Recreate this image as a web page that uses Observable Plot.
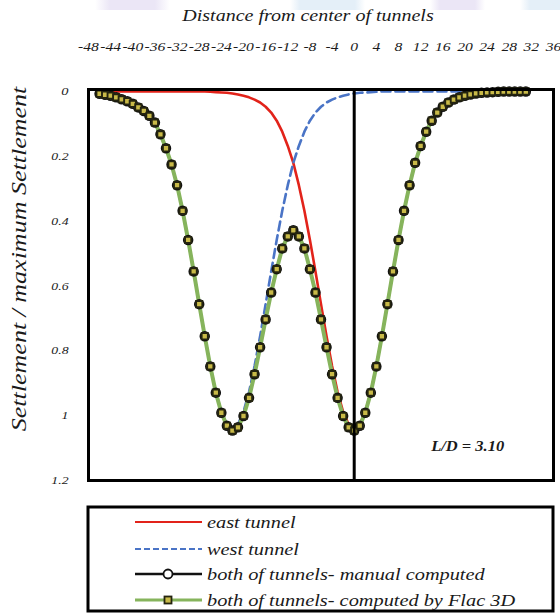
<!DOCTYPE html>
<html><head><meta charset="utf-8">
<script src="https://cdn.jsdelivr.net/npm/d3@7"></script>
<script src="https://cdn.jsdelivr.net/npm/@observablehq/plot@0.6"></script>
<style>
html,body{margin:0;padding:0;background:#fff;}
body{width:560px;height:614px;overflow:hidden;position:relative;font-family:"Liberation Serif",serif;}
#band{position:absolute;left:0;top:0;width:560px;height:10px;
 background:linear-gradient(90deg,#fff 0,#fff 95px,#ebe6f6 110px,#ebe6f6 155px,#fff 170px,#fff 290px,#e4eff8 300px,#e4eff8 355px,#fff 365px,#fff 430px,#ebe6f6 440px,#ebe6f6 475px,#fff 485px,#fff 520px,#e4eff8 530px,#e4eff8 560px);}
#chart{position:absolute;left:0;top:0;}
#legend{position:absolute;left:0;top:482px;}
</style></head><body>
<div id="band"></div>
<div id="chart"></div>
<svg id="legend" width="560" height="132"></svg>
<script>
// Distance from center of tunnels (x)
const xValues = [-46,-45,-44,-43,-42,-41,-40,-39,-38,-37,-36,-35,-34,-33,-32,-31,-30,-29,-28,-27,-26,-25,-24,-23,-22,-21,-20,-19,-18,-17,-16,-15,-14,-13,-12,-11,-10,-9,-8,-7,-6,-5,-4,-3,-2,-1,0,1,2,3,4,5,6,7,8,9,10,11,12,13,14,15,16,17,18,19,20,21,22,23,24,25,26,27,28,29,30,31];
// east tunnel
const eastTunnel = [0,0,0,0,0,0,0,0,0,0,0,0,0,0,0,0,0,0,0,0,0.001,0.002,0.003,0.004,0.006,0.009,0.013,0.018,0.025,0.034,0.047,0.065,0.090,0.124,0.168,0.220,0.289,0.368,0.458,0.555,0.656,0.755,0.847,0.927,0.988,1.027,1.040,1.027,0.988,0.927,0.847,0.755,0.656,0.555,0.458,0.368,0.289,0.220,0.168,0.124,0.090,0.065,0.047,0.034,0.025,0.018,0.013,0.009,0.006,0.004,0.003,0.002,0.001,0,0,0,0,0];
// west tunnel
const westTunnel = [0.007,0.010,0.013,0.018,0.024,0.030,0.038,0.049,0.060,0.075,0.096,0.132,0.175,0.225,0.289,0.368,0.458,0.555,0.656,0.755,0.847,0.927,0.988,1.027,1.040,1.027,0.988,0.927,0.847,0.755,0.656,0.555,0.458,0.368,0.289,0.220,0.168,0.124,0.090,0.065,0.047,0.034,0.025,0.018,0.013,0.009,0.006,0.004,0.003,0.002,0.001,0,0,0,0,0,0,0,0,0,0,0,0,0,0,0,0,0,0,0,0,0,0,0,0,0,0,0];
// both of tunnels - manual computed
const manualComputed = [0.007,0.010,0.013,0.018,0.024,0.030,0.038,0.049,0.060,0.075,0.096,0.132,0.175,0.225,0.289,0.368,0.458,0.555,0.656,0.755,0.848,0.929,0.991,1.031,1.046,1.036,1.001,0.945,0.872,0.789,0.703,0.620,0.548,0.484,0.447,0.428,0.447,0.484,0.548,0.620,0.703,0.789,0.872,0.945,1.001,1.036,1.046,1.031,0.991,0.929,0.848,0.755,0.656,0.555,0.458,0.368,0.289,0.220,0.168,0.124,0.090,0.065,0.047,0.034,0.025,0.018,0.013,0.009,0.006,0.004,0.003,0.002,0.001,0,0,0,0,0];
// both of tunnels - computed by Flac 3D
const flacComputed = [0.007,0.010,0.013,0.018,0.024,0.030,0.038,0.049,0.060,0.075,0.096,0.132,0.175,0.225,0.289,0.368,0.458,0.555,0.656,0.755,0.848,0.929,0.991,1.031,1.046,1.036,1.001,0.945,0.872,0.789,0.703,0.620,0.548,0.484,0.447,0.428,0.447,0.484,0.548,0.620,0.703,0.789,0.872,0.945,1.001,1.036,1.046,1.031,0.991,0.929,0.848,0.755,0.656,0.555,0.458,0.368,0.289,0.220,0.168,0.124,0.090,0.065,0.047,0.034,0.025,0.018,0.013,0.009,0.006,0.004,0.003,0.002,0.001,0,0,0,0,0];
const xTicks = [-48,-44,-40,-36,-32,-28,-24,-20,-16,-12,-8,-4,0,4,8,12,16,20,24,28,32,36];
const yTicks = [0,0.2,0.4,0.6,0.8,1,1.2];
const yTickLabels = ["0","0.2","0.4","0.6","0.8","1","1.2"];
const xTitle = "Distance from center of tunnels";
const yTitle = "Settlement / maximum Settlement";
const annotation = "L/D = 3.10";
const seriesNames = ["east tunnel","west tunnel","both of tunnels- manual computed","both of tunnels- computed by Flac 3D"];

const rows = xValues.map((x,i)=>({x, east:eastTunnel[i], west:westTunnel[i], manual:manualComputed[i], flac:flacComputed[i]}));

const COL = {red:"#e2231a", blue:"#4a74c6", black:"#111", green:"#86b45c", mfill:"#c9ba48", mstroke:"#24240f"};
const FONT = '"Liberation Serif", "Times New Roman", serif';

const chart = Plot.plot({
  width:560, height:482,
  marginLeft:88, marginRight:7, marginTop:89, marginBottom:2,
  style:{fontFamily:FONT, fontStyle:"italic", fontSize:"12px", color:"#1a1a1a", background:"transparent", overflow:"visible"},
  x:{domain:[-48,36], label:null},
  y:{domain:[0,1.2], range:[91,480], label:null},
  marks:[
    Plot.axisX({anchor:"top", ticks:xTicks, tickSize:0, tickPadding:39, tickFormat:d=>String(d), label:null, fontSize:12}),
    Plot.axisY({anchor:"left", ticks:yTicks, tickSize:0, tickPadding:20, tickFormat:(d,i)=>yTickLabels[i], label:null, fontSize:11}),
    Plot.line(rows,{x:"x", y:"east", stroke:COL.red, strokeWidth:2.6}),
    Plot.line(rows,{x:"x", y:"west", stroke:COL.blue, strokeWidth:2.6, strokeDasharray:"9,5"}),
    Plot.line(rows,{x:"x", y:"manual", stroke:COL.black, strokeWidth:2}),
    Plot.line(rows,{x:"x", y:"flac", stroke:COL.green, strokeWidth:4}),
    Plot.dot(rows,{x:"x", y:"manual", r:4.4, fill:"#fff", stroke:COL.black, strokeWidth:1.7}),
    Plot.dot(rows,{x:"x", y:"flac", symbol:"square", r:3.5, fill:COL.mfill, stroke:COL.mstroke, strokeWidth:1.9}),
    Plot.ruleX([0],{stroke:"#000", strokeWidth:3}),
    Plot.frame({stroke:"#000", strokeWidth:3}),
    Plot.text([annotation],{x:20.5, y:1.095, text:d=>d, fontSize:15, fontWeight:"bold", fill:"#1a1a1a"}),
    Plot.text([xTitle],{frameAnchor:"top", text:d=>d, dx:-13, dy:-74, lineAnchor:"middle", fontSize:16, fill:"#1a1a1a"}),
    Plot.text([yTitle],{frameAnchor:"left", text:d=>d, rotate:-90, textAnchor:"middle", dx:-69, dy:-26, lineAnchor:"middle", fontSize:20, fill:"#1a1a1a"})
  ]
});
document.getElementById("chart").appendChild(chart);

// legend box below the plot
const lg = d3.select("#legend");
const off = 482;
lg.append("rect").attr("x",88).attr("y",507-off).attr("width",465).attr("height",104)
  .attr("fill","none").attr("stroke","#000").attr("stroke-width",3);
const rowsY = [522,549,574,600].map(v=>v-off);
const x0=135, x1=202, xm=168;
lg.append("line").attr("x1",x0).attr("x2",x1).attr("y1",rowsY[0]).attr("y2",rowsY[0]).attr("stroke",COL.red).attr("stroke-width",2);
lg.append("line").attr("x1",x0).attr("x2",x1).attr("y1",rowsY[1]).attr("y2",rowsY[1]).attr("stroke",COL.blue).attr("stroke-width",2).attr("stroke-dasharray","6,3");
lg.append("line").attr("x1",x0).attr("x2",x1).attr("y1",rowsY[2]).attr("y2",rowsY[2]).attr("stroke",COL.black).attr("stroke-width",2.5);
lg.append("circle").attr("cx",xm).attr("cy",rowsY[2]).attr("r",4.5).attr("fill","#fff").attr("stroke",COL.black).attr("stroke-width",1.8);
lg.append("line").attr("x1",x0).attr("x2",x1).attr("y1",rowsY[3]).attr("y2",rowsY[3]).attr("stroke",COL.green).attr("stroke-width",3);
lg.append("rect").attr("x",xm-3.5).attr("y",rowsY[3]-3.5).attr("width",7).attr("height",7).attr("fill",COL.mfill).attr("stroke",COL.mstroke).attr("stroke-width",1.8);
seriesNames.forEach((s,i)=>{
  lg.append("text").attr("x",207).attr("y",rowsY[i]).attr("dy","0.35em")
    .attr("font-family",FONT).attr("font-style","italic").attr("font-size",16).attr("fill","#1a1a1a").text(s);
});

// the scanned original renders its italic text wide: widen text to the same extents
function widen(sel, f){
  sel.each(function(){
    const L = this.getComputedTextLength();
    if (L>0){ this.setAttribute("textLength", (L*f).toFixed(1)); this.setAttribute("lengthAdjust","spacingAndGlyphs"); }
  });
}
d3.select(chart).selectAll("text").each(function(){
  const t = this.textContent;
  let f = 1.25;
  if (t === yTitle) f = 1.3;
  else if (xTicks.map(String).includes(t)) f = 1.3;
  else if (t === annotation) f = 1.1;
  widen(d3.select(this), f);
});
widen(lg.selectAll("text"), 1.27);
</script>
</body></html>
